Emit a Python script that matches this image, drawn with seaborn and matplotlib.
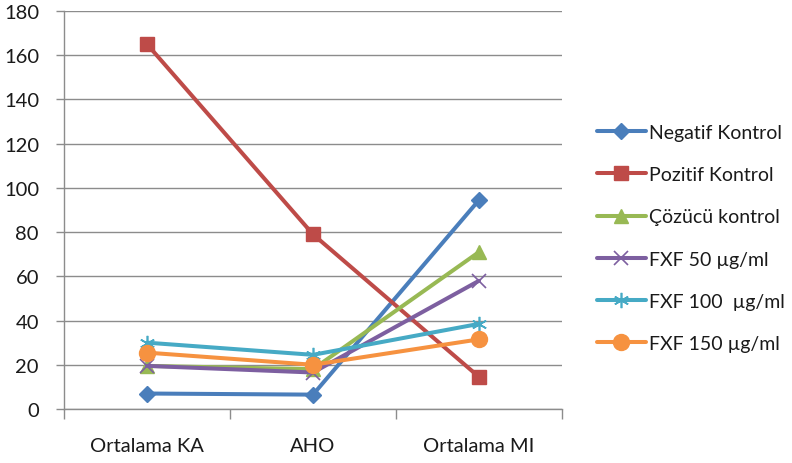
import matplotlib
matplotlib.use("Agg")
import matplotlib.pyplot as plt
import seaborn as sns
import pandas as pd
from matplotlib.lines import Line2D

categories = ["Ortalama KA", "AHO", "Ortalama MI"]
series_names = ["Negatif Kontrol", "Pozitif Kontrol", "Çözücü kontrol",
                "FXF 50 µg/ml", "FXF 100  µg/ml", "FXF 150 µg/ml"]
negatif = [7, 6.5, 94.5]
pozitif = [165, 79, 14.5]
cozucu = [19.5, 18, 71]
fxf50 = [19.5, 16.5, 58]
fxf100 = [30, 24.5, 38.5]
fxf150 = [25.5, 20, 31.5]
y_ticks = [0, 20, 40, 60, 80, 100, 120, 140, 160, 180]

values = [negatif, pozitif, cozucu, fxf50, fxf100, fxf150]
colors = ["#4A7EBB", "#BE4B48", "#98B954", "#7D5FA0", "#46AAC5", "#F69240"]
markers = ["D", "s", "^", "x", (6, 2, 0), "o"]
msizes = [8.5, 10, 10, 10, 11, 11.5]
mews = [1, 1, 1, 1.2, 1.2, 1]

rows = []
for name, vals in zip(series_names, values):
    for c, v in zip(categories, vals):
        rows.append({"series": name, "cat": c, "value": v})
df = pd.DataFrame(rows)

sns.set_style("white")
plt.rcParams["font.family"] = ["Lato", "DejaVu Sans"]

fig = plt.figure(figsize=(7.92, 4.64), dpi=100)
ax = fig.add_axes([64 / 792, 1 - 410 / 464, (562 - 64) / 792, (410 - 12) / 464])

handles = []
for i, name in enumerate(series_names):
    sub = df[df["series"] == name]
    sns.lineplot(data=sub, x="cat", y="value", ax=ax, color=colors[i],
                 linewidth=2.9, marker=markers[i], markersize=msizes[i],
                 markeredgewidth=mews[i], markeredgecolor=colors[i],
                 sort=False, legend=False, zorder=3 + i)
    handles.append(Line2D([0], [0], color=colors[i], linewidth=2.9,
                          marker=markers[i], markersize=msizes[i],
                          markeredgewidth=mews[i], markeredgecolor=colors[i]))

ax.set_xlim(-0.5, 2.5)
ax.set_ylim(0, 180)
ax.set_yticks(y_ticks)
ax.set_xticks(range(len(categories)))
ax.set_xticklabels(categories)
ax.set_xticks([-0.5, 0.5, 1.5, 2.5], minor=True)
ax.set_xlabel("")
ax.set_ylabel("")
ax.yaxis.grid(True, color="#8C8C8C", linewidth=1)
ax.set_axisbelow(True)
for s in ["top", "right"]:
    ax.spines[s].set_visible(False)
for s in ["left", "bottom"]:
    ax.spines[s].set_color("#8C8C8C")
    ax.spines[s].set_linewidth(1)
ax.tick_params(axis="y", which="major", length=6, width=1, color="#8C8C8C",
               direction="out", labelsize=14.5, labelcolor="#1A1A1A", pad=12, left=True)
ax.tick_params(axis="x", which="major", length=0, labelsize=14.5,
               labelcolor="#1A1A1A", pad=20, bottom=True)
ax.tick_params(axis="x", which="minor", length=7, width=1, color="#8C8C8C",
               direction="out", bottom=True)

fig.legend(handles, series_names, loc="upper left",
           bbox_to_anchor=(593 / 792, 1 - 121 / 464), frameon=False,
           fontsize=14, handlelength=2.5, handletextpad=0.2,
           labelspacing=1.30, labelcolor="#1A1A1A", borderaxespad=0,
           borderpad=0.2)

fig.savefig("out.png", dpi=100)
